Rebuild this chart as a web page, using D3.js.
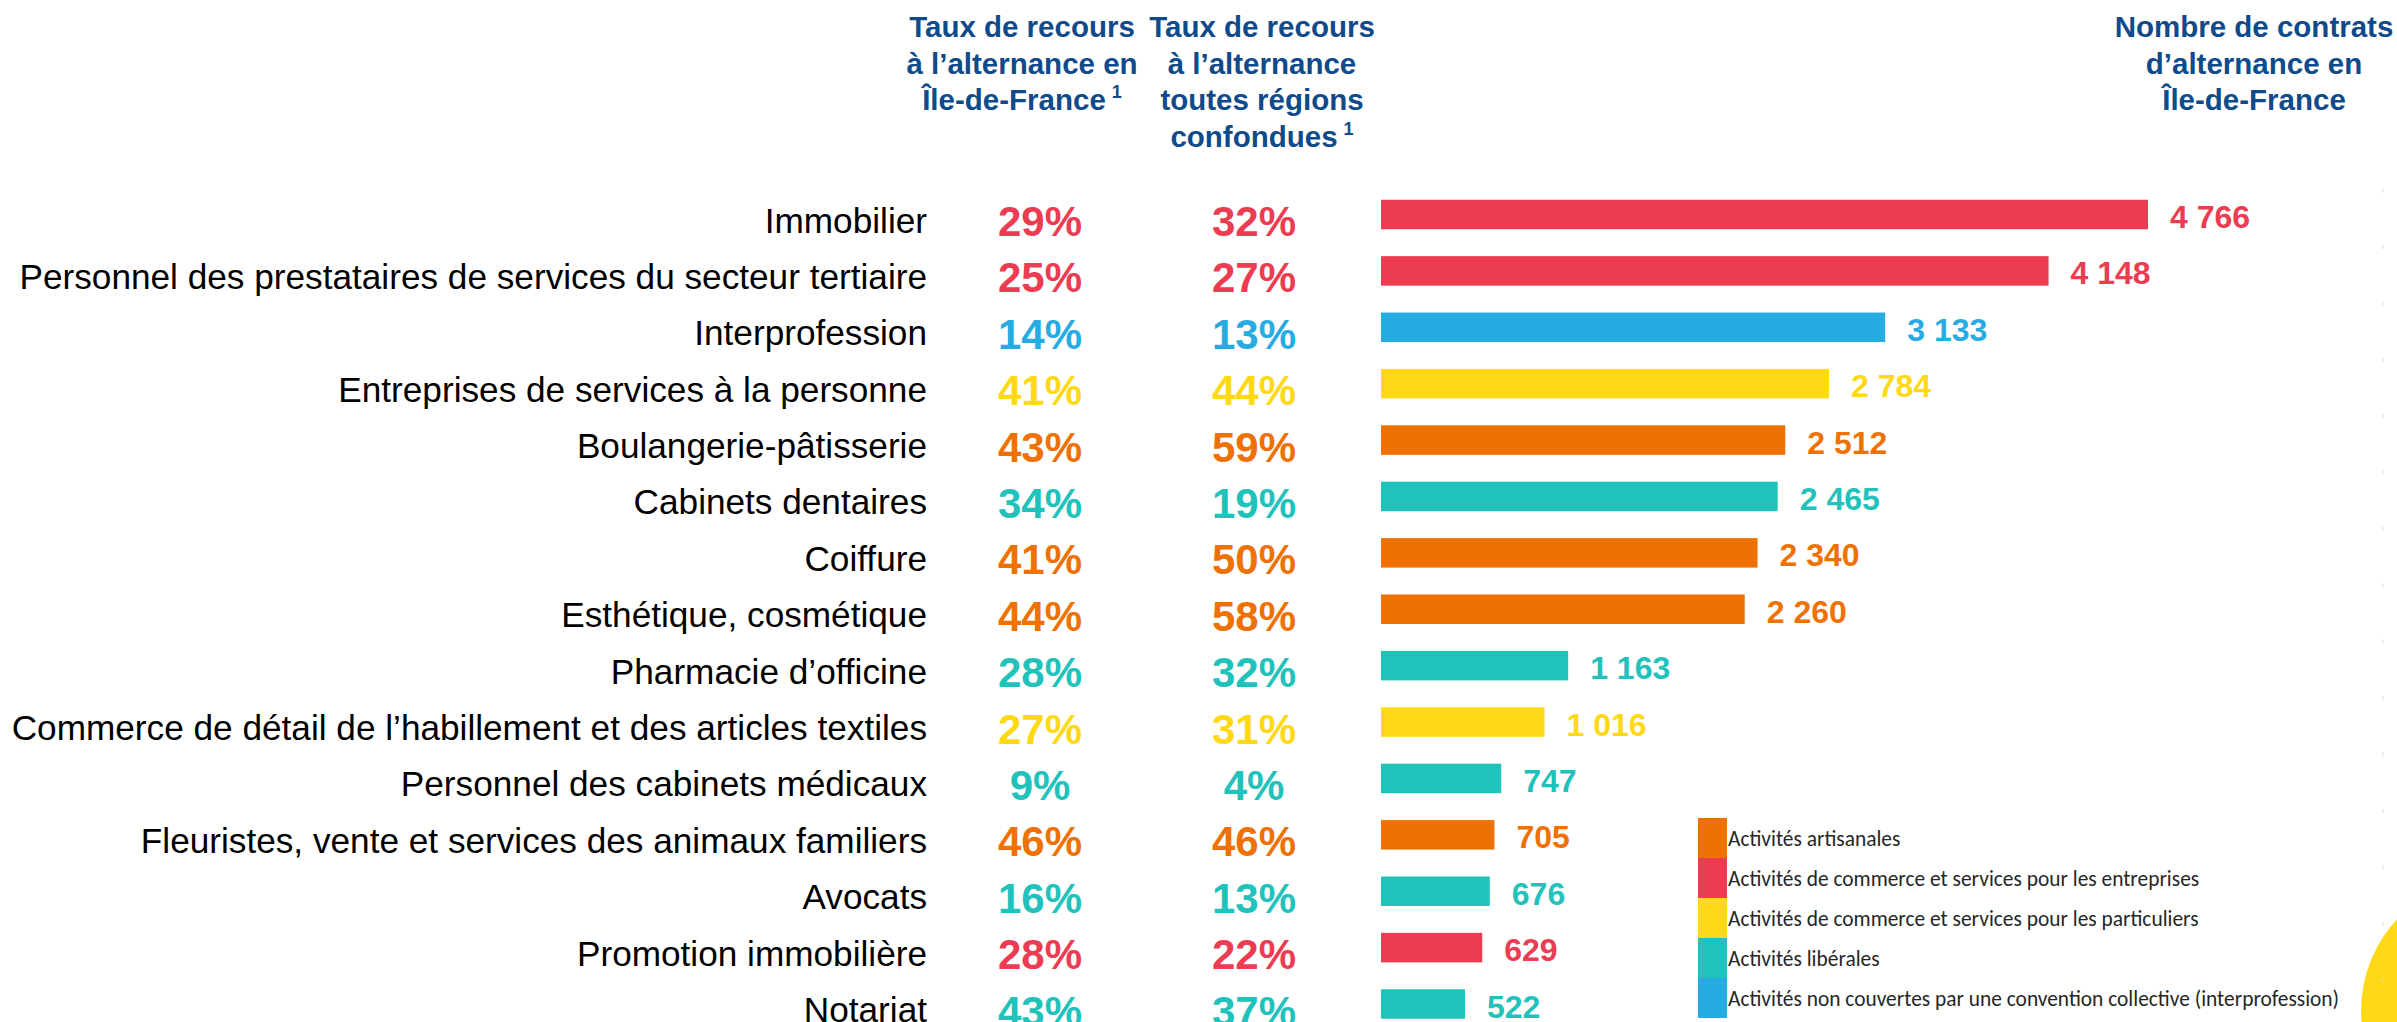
<!DOCTYPE html>
<html>
<head>
<meta charset="utf-8">
<script src="https://cdn.jsdelivr.net/npm/d3@7"></script>
<style>
    body { margin: 0; background: #fff; }
    svg { display: block; }
</style>
</head>
<body>
<div id="chart"></div>
<script>
let categories = [
    "Immobilier",
    "Personnel des prestataires de services du secteur tertiaire",
    "Interprofession",
    "Entreprises de services à la personne",
    "Boulangerie-pâtisserie",
    "Cabinets dentaires",
    "Coiffure",
    "Esthétique, cosmétique",
    "Pharmacie d’officine",
    "Commerce de détail de l’habillement et des articles textiles",
    "Personnel des cabinets médicaux",
    "Fleuristes, vente et services des animaux familiers",
    "Avocats",
    "Promotion immobilière",
    "Notariat"
];
let groups = ["ent", "ent", "inter", "part", "art", "lib", "art", "art", "lib", "part", "lib", "art", "lib", "ent", "lib"];
let rateIdf = [29, 25, 14, 41, 43, 34, 41, 44, 28, 27, 9, 46, 16, 28, 43];
let rateAll = [32, 27, 13, 44, 59, 19, 50, 58, 32, 31, 4, 46, 13, 22, 37];
let contracts = [4766, 4148, 3133, 2784, 2512, 2465, 2340, 2260, 1163, 1016, 747, 705, 676, 629, 522];

let legendKeys = ["art", "ent", "part", "lib", "inter"];
let legendLabels = [
    "Activités artisanales",
    "Activités de commerce et services pour les entreprises",
    "Activités de commerce et services pour les particuliers",
    "Activités libérales",
    "Activités non couvertes par une convention collective (interprofession)"
];
let groupColors = ["#EE7203", "#EC3C52", "#FFD816", "#21C2BB", "#26ACE2"];

let width = 2397;
let height = 1022;
let headColor = "#0F4A8A";

let color = d3.scaleOrdinal().domain(legendKeys).range(groupColors);

let svg = d3.select("#chart")
    .append("svg")
    .attr("width", width)
    .attr("height", height);

// decorative circles
svg.append("circle").attr("cx", -8).attr("cy", -8).attr("r", 11).attr("fill", "#EE7203");
svg.append("circle").attr("cx", 2496).attr("cy", 1011).attr("r", 135).attr("fill", "#FFD816");

let yScale = d3.scalePoint()
    .domain(categories)
    .range([214.5, 1004]);

let xScale = d3.scaleLinear()
    .domain([0, d3.max(contracts)])
    .range([1381, 2148]);

let rows = categories.map((c, i) => ({
    name: c,
    group: groups[i],
    idf: rateIdf[i],
    all: rateAll[i],
    value: contracts[i]
}));

// headers
let headers = [
    { x: 1022, lines: ["Taux de recours", "à l’alternance en", "Île-de-France"], sup: true },
    { x: 1262, lines: ["Taux de recours", "à l’alternance", "toutes régions", "confondues"], sup: true },
    { x: 2254, lines: ["Nombre de contrats", "d’alternance en", "Île-de-France"], sup: false }
];

headers.forEach(h => {
    h.lines.forEach((line, i) => {
        let t = svg.append("text")
            .attr("x", h.x)
            .attr("y", 37 + i * 36.5)
            .attr("text-anchor", "middle")
            .attr("font-family", "Liberation Sans, Arial, sans-serif")
            .attr("font-weight", "bold")
            .attr("font-size", 29.5)
            .attr("fill", headColor)
            .text(line);
        if (h.sup && i === h.lines.length - 1) {
            t.append("tspan")
                .attr("font-size", 18)
                .attr("dx", 6)
                .attr("dy", -12)
                .text("1");
        }
    });
});

// category labels
svg.selectAll(".cat-label")
    .data(rows)
    .enter()
    .append("text")
    .attr("class", "cat-label")
    .attr("x", 927)
    .attr("y", d => yScale(d.name) + 18)
    .attr("text-anchor", "end")
    .attr("font-family", "Liberation Sans, Arial, sans-serif")
    .attr("font-size", 35.2)
    .attr("fill", "#000")
    .text(d => d.name);

// rate columns
svg.selectAll(".rate-idf")
    .data(rows)
    .enter()
    .append("text")
    .attr("class", "rate-idf")
    .attr("x", 1040)
    .attr("y", d => yScale(d.name) + 21.5)
    .attr("text-anchor", "middle")
    .attr("font-family", "Liberation Sans, Arial, sans-serif")
    .attr("font-weight", "bold")
    .attr("font-size", 42)
    .attr("fill", d => color(d.group))
    .text(d => d.idf + "%");

svg.selectAll(".rate-all")
    .data(rows)
    .enter()
    .append("text")
    .attr("class", "rate-all")
    .attr("x", 1254)
    .attr("y", d => yScale(d.name) + 21.5)
    .attr("text-anchor", "middle")
    .attr("font-family", "Liberation Sans, Arial, sans-serif")
    .attr("font-weight", "bold")
    .attr("font-size", 42)
    .attr("fill", d => color(d.group))
    .text(d => d.all + "%");

// bars
let barHeight = 29.5;

svg.selectAll(".bar")
    .data(rows)
    .enter()
    .append("rect")
    .attr("class", "bar")
    .attr("x", xScale(0))
    .attr("y", d => yScale(d.name) - barHeight / 2)
    .attr("width", d => xScale(d.value) - xScale(0))
    .attr("height", barHeight)
    .attr("fill", d => color(d.group));

let fmt = d3.formatLocale({ decimal: ",", thousands: " ", grouping: [3], currency: ["", " €"] }).format(",d");

svg.selectAll(".value-label")
    .data(rows)
    .enter()
    .append("text")
    .attr("class", "value-label")
    .attr("x", d => xScale(d.value) + 22)
    .attr("y", d => yScale(d.name) + 13.5)
    .attr("font-family", "Liberation Sans, Arial, sans-serif")
    .attr("font-weight", "bold")
    .attr("font-size", 32)
    .attr("fill", d => color(d.group))
    .text(d => fmt(d.value));

// faint ticks at the right edge
svg.selectAll(".edge-tick")
    .data(rows)
    .enter()
    .append("line")
    .attr("class", "edge-tick")
    .attr("x1", 2383).attr("x2", 2383)
    .attr("y1", d => yScale(d.name) - 26)
    .attr("y2", d => yScale(d.name) - 22)
    .attr("stroke", "#d9d9d9")
    .attr("stroke-width", 1);

// legend
let legend = svg.append("g").attr("transform", "translate(1698, 818)");

legend.selectAll("rect")
    .data(legendKeys)
    .enter()
    .append("rect")
    .attr("x", 0)
    .attr("y", (d, i) => i * 40)
    .attr("width", 29)
    .attr("height", 40)
    .attr("fill", d => color(d));

legend.selectAll("text")
    .data(legendLabels)
    .enter()
    .append("text")
    .attr("x", 30)
    .attr("y", (d, i) => i * 40 + 28)
    .attr("font-family", "Carlito, Calibri, Lato, sans-serif")
    .attr("font-size", 21.4)
    .attr("fill", "#262626")
    .text(d => d);
</script>
</body>
</html>
